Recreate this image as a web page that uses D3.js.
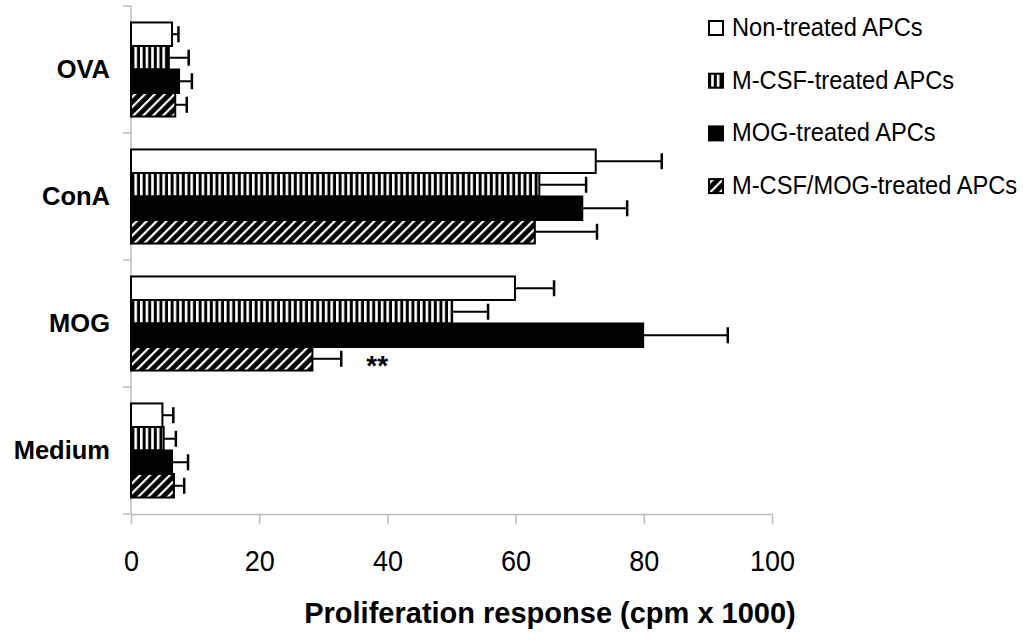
<!DOCTYPE html>
<html><head><meta charset="utf-8">
<script src="https://cdn.jsdelivr.net/npm/d3@7"></script>
<style>
html,body{margin:0;padding:0;background:#fff;}
svg{display:block;font-family:"Liberation Sans",Arial,sans-serif;}
</style></head>
<body>
<svg id="chart" width="1023" height="641"></svg>
<script>
const categories = ["OVA", "ConA", "MOG", "Medium"];
const seriesNames = ["Non-treated APCs", "M-CSF-treated APCs", "MOG-treated APCs", "M-CSF/MOG-treated APCs"];
const seriesKeys = ["none", "mcsf", "mog", "both"];
// values per category in order OVA, ConA, MOG, Medium
const nonTreated = [6.4, 72.5, 59.9, 4.9];
const nonTreatedErr = [1.0, 10.3, 6.1, 1.7];
const mcsfTreated = [5.9, 63.7, 50.1, 5.1];
const mcsfTreatedErr = [3.1, 7.3, 5.6, 1.9];
const mogTreated = [7.5, 70.4, 79.9, 6.4];
const mogTreatedErr = [2.0, 7.0, 13.2, 2.5];
const bothTreated = [6.9, 63.0, 28.3, 6.7];
const bothTreatedErr = [1.8, 9.7, 4.5, 1.6];
const xTicks = [0, 20, 40, 60, 80, 100];
const xTitle = "Proliferation response (cpm x 1000)";
const significance = {category: "MOG", series: "both", label: "**"};

const values = [nonTreated, mcsfTreated, mogTreated, bothTreated];
const errors = [nonTreatedErr, mcsfTreatedErr, mogTreatedErr, bothTreatedErr];

const svg = d3.select("#chart");
const axisColor = "#bdbdbd";

// patterns
const defs = svg.append("defs");
const pv = defs.append("pattern").attr("id","p-mcsf").attr("patternUnits","userSpaceOnUse")
  .attr("width",5.6).attr("height",6);
pv.append("rect").attr("width",5.6).attr("height",6).attr("fill","#fff");
pv.append("rect").attr("x",2.6).attr("width",3).attr("height",6).attr("fill","#000");
const pd = defs.append("pattern").attr("id","p-both").attr("patternUnits","userSpaceOnUse")
  .attr("width",7).attr("height",7).attr("patternTransform","rotate(45)");
pd.append("rect").attr("width",7).attr("height",7).attr("fill","#000");
pd.append("rect").attr("x",0).attr("width",2.2).attr("height",7).attr("fill","#fff");

const fills = {none:"#fff", mcsf:"url(#p-mcsf)", mog:"#000", both:"url(#p-both)"};

const x = d3.scaleLinear().domain([0,100]).range([131,772]);
const y = d3.scaleBand().domain(categories).range([6,514]).padding(0);
const y1 = d3.scaleBand().domain(seriesKeys).range([0,y.bandwidth()]).paddingInner(0).paddingOuter(0.7);

// x axis
const xAxis = d3.axisBottom(x).tickValues(xTicks).tickSize(10).tickSizeOuter(0).tickFormat(d3.format("d"));
const gx = svg.append("g").attr("transform","translate(0,514)").call(xAxis);
gx.select(".domain").attr("stroke",axisColor).attr("stroke-width",1.5);
gx.selectAll(".tick line").attr("stroke",axisColor).attr("stroke-width",1.5);
gx.selectAll(".tick text").attr("y",57).attr("dy",null).attr("fill","#000")
  .attr("font-size",30).attr("font-family","'Liberation Sans',Arial,sans-serif")
  .attr("transform","scale(0.9,1)");

// y axis line and boundary ticks
const bounds = categories.map(c => y(c)).concat([y.range()[1]]);
svg.append("line").attr("x1",x(0)).attr("x2",x(0)).attr("y1",y.range()[0]).attr("y2",y.range()[1])
  .attr("stroke",axisColor).attr("stroke-width",1.5);
svg.selectAll(".ytick").data(bounds).join("line").attr("class","ytick")
  .attr("x1",x(0)-8).attr("x2",x(0)).attr("y1",d=>d).attr("y2",d=>d)
  .attr("stroke",axisColor).attr("stroke-width",1.5);

// category labels
svg.selectAll(".cat").data(categories).join("text").attr("class","cat")
  .attr("x",110).attr("y",c=>y(c)+y.bandwidth()/2).attr("dy","0.35em")
  .attr("text-anchor","end").attr("font-weight","bold").attr("font-size",25.5)
  .text(c=>c);

// bars
const rows = [];
categories.forEach((c,ci)=>seriesKeys.forEach((s,si)=>{
  rows.push({c, s, v: values[si][ci], e: errors[si][ci]});
}));
const g = svg.append("g");
g.selectAll("rect.bar").data(rows).join("rect").attr("class","bar")
  .attr("x",x(0)).attr("y",d=>y(d.c)+y1(d.s))
  .attr("width",d=>x(d.v)-x(0)).attr("height",y1.bandwidth())
  .attr("fill",d=>fills[d.s]).attr("stroke","#000").attr("stroke-width",2);

// error bars
const capH = 16;
g.selectAll("line.err").data(rows).join("line").attr("class","err")
  .attr("x1",d=>x(d.v)).attr("x2",d=>x(d.v+d.e))
  .attr("y1",d=>y(d.c)+y1(d.s)+y1.bandwidth()/2).attr("y2",d=>y(d.c)+y1(d.s)+y1.bandwidth()/2)
  .attr("stroke","#000").attr("stroke-width",2);
g.selectAll("line.cap").data(rows).join("line").attr("class","cap")
  .attr("x1",d=>x(d.v+d.e)).attr("x2",d=>x(d.v+d.e))
  .attr("y1",d=>y(d.c)+y1(d.s)+y1.bandwidth()/2-capH/2).attr("y2",d=>y(d.c)+y1(d.s)+y1.bandwidth()/2+capH/2)
  .attr("stroke","#000").attr("stroke-width",2.5);

// significance
const sigRow = rows.find(r=>r.c===significance.category && r.s===significance.series);
svg.append("text").attr("x",x(sigRow.v+sigRow.e)+36)
  .attr("y",y(sigRow.c)+y1(sigRow.s)+y1.bandwidth()/2+16)
  .attr("text-anchor","middle").attr("font-weight","bold").attr("font-size",28)
  .text(significance.label);

// x title
svg.append("text").attr("x",550).attr("y",623).attr("text-anchor","middle")
  .attr("font-weight","bold").attr("font-size",29).text(xTitle);

// legend
const leg = svg.append("g");
seriesKeys.forEach((s,i)=>{
  const top = 21 + i*52.7;
  leg.append("rect").attr("x",709).attr("y",top).attr("width",14).attr("height",14)
    .attr("fill",fills[s]).attr("stroke","#000").attr("stroke-width",2);
  leg.append("text").attr("transform",`translate(732,${top+15}) scale(0.91,1)`)
    .attr("font-size",26).text(seriesNames[i]);
});
</script>
</body></html>
